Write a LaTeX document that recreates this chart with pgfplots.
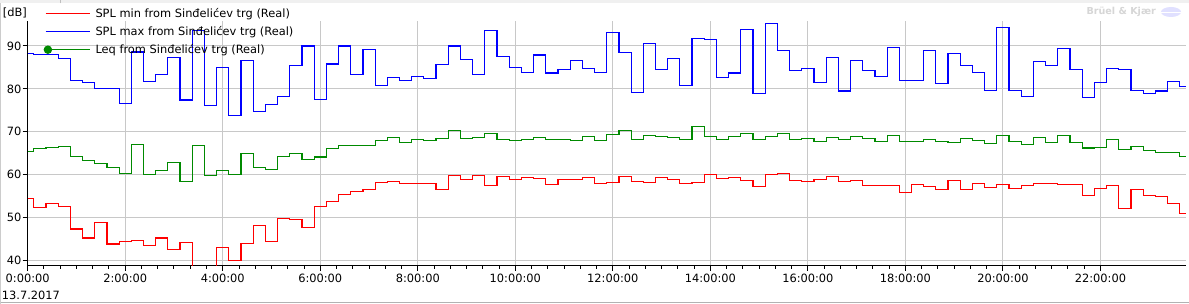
\documentclass[border=0pt]{standalone}
\usepackage{fontspec}
\setmainfont{DejaVu Sans}
\usepackage{pgfplots}
\usepackage{pgfplotstable}
\pgfplotsset{compat=1.18}
\definecolor{splmin}{RGB}{255,0,0}
\definecolor{splmax}{RGB}{0,0,255}
\definecolor{leq}{RGB}{0,138,0}
\definecolor{gridc}{RGB}{200,200,200}
\pgfplotstableread{
t min max leq
0.00 54.5 88.3 65.4
0.25 52.4 88.0 66.0
0.50 53.3 88.0 66.3
0.75 52.6 87.0 66.6
1.00 47.3 82.0 64.3
1.25 45.2 81.5 63.3
1.50 48.9 80.0 62.6
1.75 43.8 80.0 61.7
2.00 44.4 76.5 60.3
2.25 44.7 88.6 67.1
2.50 43.5 81.7 60.1
2.75 45.2 83.3 61.0
3.00 42.6 87.4 62.9
3.25 44.2 77.4 58.4
3.50 37.5 93.7 66.8
3.75 37.5 76.2 59.7
4.00 43.0 85.0 61.0
4.25 40.0 73.7 60.1
4.50 44.0 86.7 64.9
4.75 48.2 74.8 61.7
5.00 44.4 76.4 61.2
5.25 49.8 78.3 64.3
5.50 49.6 85.5 64.9
5.75 47.7 90.0 63.6
6.00 52.6 77.6 64.1
6.25 53.8 85.8 66.1
6.50 55.4 90.0 66.8
6.75 56.1 83.4 66.8
7.00 56.6 89.2 66.8
7.25 58.2 80.8 68.0
7.50 58.4 82.7 68.7
7.75 58.0 82.0 67.5
8.00 58.0 82.9 68.2
8.25 58.0 82.5 68.0
8.50 56.6 85.7 68.5
8.75 59.8 90.0 70.3
9.00 58.9 86.9 68.5
9.25 59.8 83.4 68.7
9.50 57.5 93.7 69.6
9.75 59.6 87.6 68.2
10.00 58.9 85.0 68.0
10.25 59.4 83.9 68.2
10.50 59.1 87.9 68.7
10.75 57.7 83.7 68.2
11.00 58.9 84.6 68.2
11.25 58.9 86.7 68.0
11.50 59.4 84.8 68.9
11.75 58.0 83.9 68.0
12.00 58.2 93.2 69.4
12.25 59.6 88.4 70.3
12.50 58.4 79.2 68.2
12.75 58.2 90.5 69.2
13.00 59.4 84.6 68.9
13.25 58.9 87.1 68.7
13.50 58.0 80.8 68.2
13.75 58.2 91.8 71.3
14.00 60.1 91.6 68.9
14.25 59.1 82.7 68.2
14.50 59.4 83.7 68.9
14.75 58.7 93.9 69.6
15.00 57.3 79.0 68.2
15.25 60.1 95.3 68.9
15.50 60.3 89.0 69.6
15.75 58.7 84.2 68.2
16.00 58.4 84.8 68.5
16.25 58.9 81.5 67.8
16.50 59.6 87.4 68.7
16.75 58.4 79.5 68.2
17.00 58.7 86.7 68.9
17.25 57.5 84.3 68.5
17.50 57.5 82.9 67.8
17.75 57.5 89.7 69.2
18.00 55.9 82.0 67.8
18.25 57.7 82.0 67.8
18.50 57.3 89.0 68.2
18.75 56.6 81.3 67.8
19.00 58.7 88.3 67.5
19.25 56.6 85.5 68.5
19.50 58.0 83.9 68.0
19.75 57.0 79.7 67.3
20.00 57.7 94.4 69.2
20.25 56.8 79.7 67.8
20.50 57.5 78.2 67.1
20.75 58.0 86.4 68.7
21.00 58.0 85.5 67.5
21.25 57.7 89.5 69.2
21.50 57.7 84.6 67.5
21.75 55.2 78.0 66.2
22.00 56.8 81.5 66.4
22.25 57.5 84.8 68.2
22.50 52.1 84.6 65.9
22.75 56.6 79.7 66.6
23.00 55.2 79.0 65.7
23.25 54.9 79.5 65.2
23.50 53.3 81.8 65.2
23.75 51.0 80.6 64.3
}\datatable
\begin{document}
\begin{tikzpicture}[font=\fontsize{11.4bp}{13.7bp}\selectfont]
\useasboundingbox (0,0) rectangle (1189bp,304bp);
\fill[white] (0,0) rectangle (1189bp,304bp);
% window chrome
\fill[black!6] (0,300.7bp) rectangle (1189bp,304bp);
\draw[black!25, line width=0.8bp] (60bp,300.7bp) -- (60bp,304bp);
\draw[black!30, line width=0.8bp] (0,1.3bp) -- (1189bp,1.3bp);
\draw[black!20, line width=0.8bp] (0.4bp,0) -- (0.4bp,300.7bp);
% watermark
\node[anchor=east, inner sep=0pt, text=black!16, font=\fontsize{9.6bp}{11bp}\selectfont\bfseries] at (1156bp,292bp) {Brüel \& Kjær};
\fill[blue!12] (1171bp,292bp) ellipse (10bp and 5bp);
\draw[white, line width=0.8bp] (1161bp,292bp) -- (1181bp,292bp);
\begin{axis}[
  at={(27.7bp,38bp)}, anchor=south west,
  scale only axis, width=1158.1bp, height=245.3bp,
  xmin=0, xmax=23.75, ymin=38.67, ymax=95.9,
  axis x line*=bottom, axis y line*=left,
  axis line style={black, line width=1bp},
  xtick={0,2,...,22},
  xticklabels={0:00:00,2:00:00,4:00:00,6:00:00,8:00:00,10:00:00,12:00:00,14:00:00,16:00:00,18:00:00,20:00:00,22:00:00},
  minor x tick num=5,
  ytick={40,50,60,70,80,90},
  /pgf/number format/assume math mode=true,
  grid=major,
  major grid style={gridc, line width=1bp},
  tick align=outside,
  major tick length=5bp, minor tick length=3bp,
  tick style={black, line width=1bp},
  ticklabel style={font=\fontsize{11.4bp}{13.7bp}\selectfont},
  yticklabel style={inner sep=1bp},
  legend style={draw=none, fill=none, at={(axis description cs:0.01494,0.9552)}, anchor=west,
    inner sep=0pt, outer sep=0pt, row sep=6.9bp, column sep=5.3bp,
    cells={anchor=west},
    nodes={inner sep=0pt, outer sep=0pt, text height=9.7bp, text depth=1.4bp},
    font=\fontsize{11.4bp}{13.7bp}\selectfont},
]
\addplot[const plot mark mid, splmin, line width=1.2bp,
  legend image code/.code={\draw[splmin, line width=1.2bp] (0bp,0bp) -- (44bp,0bp);}]
  table[x=t, y=min] {\datatable};
\addlegendentry{SPL min from Sinđelićev trg (Real)}
\addplot[const plot mark mid, splmax, line width=1.2bp,
  legend image code/.code={\draw[splmax, line width=1.2bp] (0bp,0bp) -- (44bp,0bp);}]
  table[x=t, y=max] {\datatable};
\addlegendentry{SPL max from Sinđelićev trg (Real)}
\addplot[const plot mark mid, leq, line width=1.2bp,
  legend image code/.code={\draw[leq, line width=1.2bp] (0bp,0bp) -- (44bp,0bp);
     \fill[leq, overlay] (2.3bp,0bp) circle (3.6bp);}]
  table[x=t, y=leq] {\datatable};
\addlegendentry{Leq from Sinđelićev trg (Real)}
\end{axis}
\node[anchor=west, inner sep=0pt] at (2.7bp,290.7bp) {[dB]};
\node[anchor=west, inner sep=0pt] at (1.7bp,9bp) {13.7.2017};
\end{tikzpicture}
\end{document}
